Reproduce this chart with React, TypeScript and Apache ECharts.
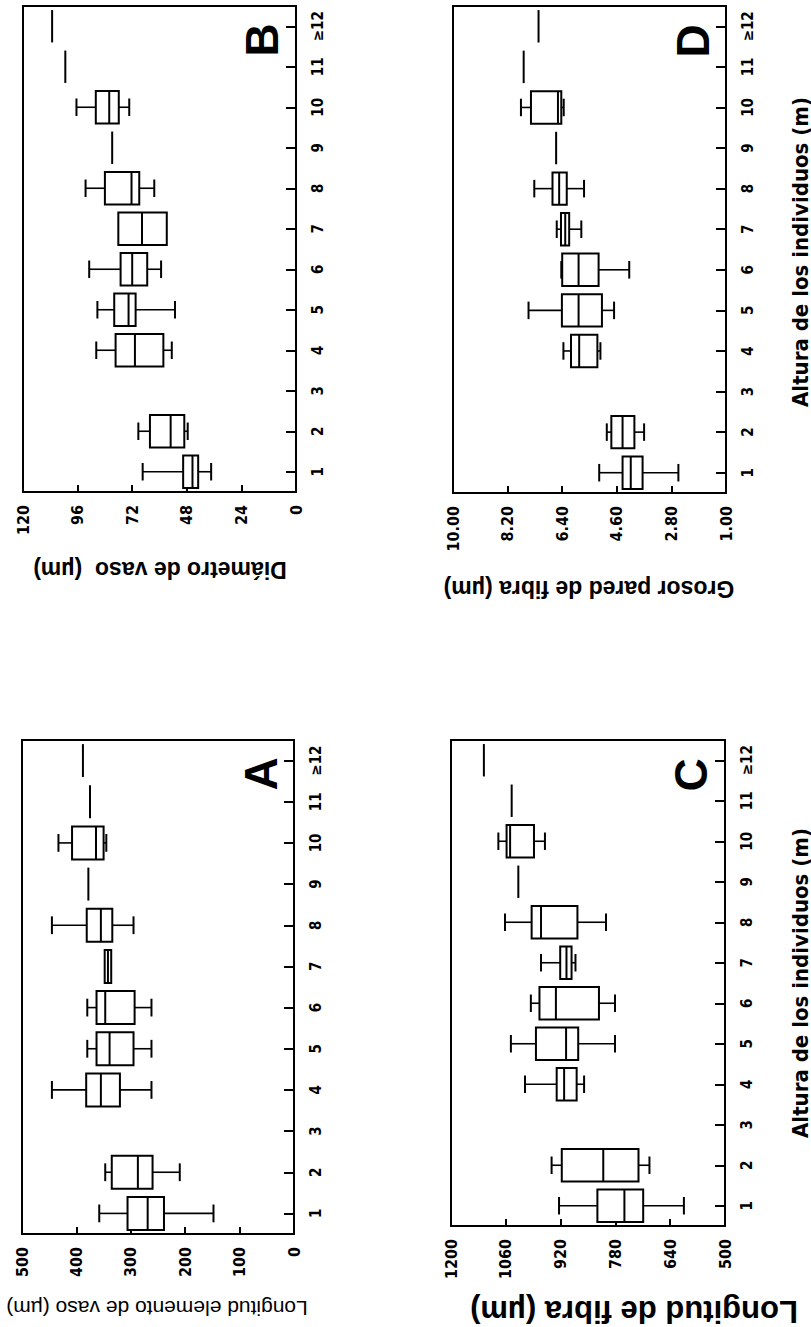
import React, { useEffect, useRef } from 'react';
import * as echarts from 'echarts';

const CATEGORIES = ['1', '2', '3', '4', '5', '6', '7', '8', '9', '10', '11', '≥12'];

// [min, Q1, median, Q3, max] per height class; null = no trees
const VESSEL_LENGTH = [
  [148, 239, 269, 306, 358],
  [210, 260, 287, 335, 347],
  null,
  [262, 320, 355, 382, 445],
  [262, 295, 339, 363, 380],
  [262, 293, 347, 363, 380],
  [336, 336, 342, 348, 348],
  [295, 334, 355, 381, 445],
  [378, 378, 378, 378, 378],
  [345, 350, 364, 408, 433],
  [375, 375, 375, 375, 375],
  [388, 388, 388, 388, 388],
];

const VESSEL_DIAMETER = [
  [37.3, 43.0, 45.5, 49.6, 67.4],
  [47.6, 49.1, 55.1, 64.2, 69.3],
  null,
  [54.6, 58.3, 70.8, 79.3, 87.8],
  [53.2, 70.5, 73.6, 79.9, 87.3],
  [59.3, 65.4, 72.0, 77.1, 90.9],
  [56.8, 56.8, 67.7, 78.1, 78.1],
  [62.3, 68.9, 72.3, 84.0, 92.5],
  [80.8, 80.8, 80.8, 80.8, 80.8],
  [73.3, 77.9, 82.1, 88.0, 96.5],
  [101.4, 101.4, 101.4, 101.4, 101.4],
  [107.2, 107.2, 107.2, 107.2, 107.2],
];

const FIBER_LENGTH = [
  [605, 709, 757, 826, 924],
  [693, 721, 811, 917, 943],
  null,
  [860, 879, 911, 930, 1011],
  [781, 875, 906, 983, 1047],
  [781, 822, 932, 974, 996],
  [882, 892, 905, 921, 970],
  [804, 877, 970, 994, 1062],
  [1028, 1028, 1028, 1028, 1028],
  [960, 988, 1049, 1058, 1079],
  [1045, 1045, 1045, 1045, 1045],
  [1116, 1116, 1116, 1116, 1116],
];

const FIBER_WALL = [
  [2.57, 3.75, 4.14, 4.41, 5.18],
  [3.70, 4.02, 4.41, 4.78, 4.93],
  null,
  [5.14, 5.24, 5.84, 6.11, 6.36],
  [4.69, 5.09, 5.86, 6.41, 7.51],
  [4.19, 5.20, 5.86, 6.40, 6.43],
  [5.77, 6.17, 6.30, 6.44, 6.58],
  [5.68, 6.25, 6.50, 6.72, 7.32],
  [6.60, 6.60, 6.60, 6.60, 6.60],
  [6.35, 6.43, 6.54, 7.43, 7.76],
  [7.67, 7.67, 7.67, 7.67, 7.67],
  [7.18, 7.18, 7.18, 7.18, 7.18],
];

const TICKS_A = [0, 100, 200, 300, 400, 500];
const TICKS_B = [0, 24, 48, 72, 96, 120];
const TICKS_C = [500, 640, 780, 920, 1060, 1200];
const TICKS_D = [1, 2.8, 4.6, 6.4, 8.2, 10];

const TITLE_A = 'Longitud elemento de vaso (µm)';
const TITLE_B = 'Diámetro de vaso  (µm)';
const TITLE_C = 'Longitud de fibra (µm)';
const TITLE_D = 'Grosor pared de fibra (µm)';
const X_TITLE = 'Altura de los individuos (m)';

const NARROW = '"Liberation Sans Narrow", "Arial Narrow", "DejaVu Sans Condensed", "Liberation Sans", sans-serif';
const SANS = '"Liberation Sans", Arial, Helvetica, sans-serif';

const panels = [
  { key: 'A', data: VESSEL_LENGTH, ticks: TICKS_A, dec: 0, grid: { left: 22, top: 740, width: 272, height: 494 } },
  { key: 'B', data: VESSEL_DIAMETER, ticks: TICKS_B, dec: 0, grid: { left: 23, top: 6, width: 273, height: 486 } },
  { key: 'C', data: FIBER_LENGTH, ticks: TICKS_C, dec: 0, grid: { left: 451, top: 740, width: 274, height: 486 } },
  { key: 'D', data: FIBER_WALL, ticks: TICKS_D, dec: 2, grid: { left: 453, top: 6, width: 273, height: 487 } },
];

function renderBox(params: any, api: any) {
  const cat = api.value(0);
  const mn = api.value(1);
  const q1 = api.value(2);
  const md = api.value(3);
  const q3 = api.value(4);
  const mx = api.value(5);
  const band = api.size([0, 1])[1];
  const bw = band * 0.8;
  const half = bw / 2;
  const cap = bw * 0.27;
  const y = api.coord([md, cat])[1];
  const x = (v: number) => api.coord([v, cat])[0];
  const stroke = { stroke: '#000', lineWidth: 2, fill: 'none' };
  const children: any[] = [];
  if (q3 > q1) {
    const a = x(q1);
    const b = x(q3);
    children.push({
      type: 'rect',
      shape: { x: Math.min(a, b), y: y - half, width: Math.abs(b - a), height: bw },
      style: { stroke: '#000', lineWidth: 2, fill: '#fff' },
    });
  }
  children.push({ type: 'line', shape: { x1: x(md), y1: y - half, x2: x(md), y2: y + half }, style: stroke });
  if (mx > q3) {
    children.push({ type: 'line', shape: { x1: x(q3), y1: y, x2: x(mx), y2: y }, style: { ...stroke, lineWidth: 1.6 } });
    children.push({ type: 'line', shape: { x1: x(mx), y1: y - cap, x2: x(mx), y2: y + cap }, style: stroke });
  }
  if (mn < q1) {
    children.push({ type: 'line', shape: { x1: x(q1), y1: y, x2: x(mn), y2: y }, style: { ...stroke, lineWidth: 1.6 } });
    children.push({ type: 'line', shape: { x1: x(mn), y1: y - cap, x2: x(mn), y2: y + cap }, style: stroke });
  }
  return { type: 'group', children };
}

function buildOption() {
  const grid: any[] = [];
  const xAxis: any[] = [];
  const yAxis: any[] = [];
  const series: any[] = [];
  panels.forEach((p, i) => {
    grid.push({ ...p.grid, show: true, borderColor: '#000', borderWidth: 2, backgroundColor: 'transparent' });
    xAxis.push({
      type: 'value',
      gridIndex: i,
      min: p.ticks[0],
      max: p.ticks[p.ticks.length - 1],
      inverse: true,
      position: 'bottom',
      axisLine: { show: true, lineStyle: { color: '#000', width: 2 } },
      axisTick: { show: true, inside: true, length: 7, customValues: p.ticks, lineStyle: { color: '#000', width: 2 } },
      axisLabel: {
        show: true,
        rotate: 90,
        margin: 13,
        customValues: p.ticks,
        formatter: (v: number) => v.toFixed(p.dec),
        color: '#000',
        fontFamily: NARROW,
        fontWeight: 'bold',
        fontSize: 16,
      },
      splitLine: { show: false },
    });
    yAxis.push({
      type: 'category',
      gridIndex: i,
      data: CATEGORIES,
      position: 'right',
      boundaryGap: true,
      axisLine: { show: true, lineStyle: { color: '#000', width: 2 } },
      axisTick: { show: true, inside: true, length: 10, alignWithLabel: true, lineStyle: { color: '#000', width: 2 } },
      axisLabel: {
        show: true,
        rotate: 90,
        margin: 14,
        interval: 0,
        color: '#000',
        fontFamily: NARROW,
        fontWeight: 'bold',
        fontSize: 15,
      },
      splitLine: { show: false },
    });
    const data = p.data
      .map((s, ci) => (s ? [ci, ...s] : null))
      .filter((d) => d !== null);
    series.push({
      type: 'custom',
      xAxisIndex: i,
      yAxisIndex: i,
      renderItem: renderBox,
      encode: { x: [1, 2, 3, 4, 5], y: 0 },
      data,
      silent: true,
    });
  });

  const txt = (text: string, x: number, y: number, rot: number, font: string) => ({
    type: 'text',
    x,
    y,
    rotation: rot,
    silent: true,
    style: { text, font, fill: '#000', textAlign: 'center', textVerticalAlign: 'middle' },
  });

  const graphic = [
    txt(TITLE_B, 160, 570, Math.PI, `bold 23px ${SANS}`),
    txt(TITLE_D, 589, 589, Math.PI, `bold 23px ${SANS}`),
    txt(TITLE_A, 157, 1308, Math.PI, `21px ${SANS}`),
    txt(TITLE_C, 634, 1311, Math.PI, `bold 31px ${SANS}`),
    txt(X_TITLE, 800, 252, Math.PI / 2, `bold 22px ${NARROW}`),
    txt(X_TITLE, 800, 983, Math.PI / 2, `bold 22px ${NARROW}`),
    txt('B', 262, 40, Math.PI / 2, `bold 46px ${SANS}`),
    txt('D', 693, 41, Math.PI / 2, `bold 46px ${SANS}`),
    txt('A', 261, 774, Math.PI / 2, `bold 46px ${SANS}`),
    txt('C', 691, 775, Math.PI / 2, `bold 46px ${SANS}`),
  ];

  return {
    animation: false,
    backgroundColor: '#fff',
    grid,
    xAxis,
    yAxis,
    series,
    graphic,
  };
}

export default function App() {
  const ref = useRef<HTMLDivElement>(null);
  useEffect(() => {
    if (!ref.current) return;
    const chart = echarts.init(ref.current, null, { renderer: 'svg' });
    chart.setOption(buildOption() as any);
    return () => chart.dispose();
  }, []);
  return (
    <div
      ref={ref}
      style={{ position: 'fixed', left: 0, top: 0, width: 811, height: 1327, background: '#fff' }}
    />
  );
}
